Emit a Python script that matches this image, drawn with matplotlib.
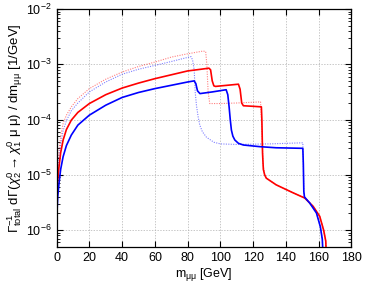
import matplotlib.pyplot as plt
import numpy as np

plt.rcParams['font.family'] = ['Liberation Sans', 'DejaVu Sans']
plt.rcParams['mathtext.fontset'] = 'custom'
plt.rcParams['mathtext.rm'] = 'Liberation Sans'
plt.rcParams['mathtext.it'] = 'Liberation Sans:italic'

# values: m_mumu [GeV] and log10 of the distribution
red_x = [0.05, 0.1, 0.3, 0.7, 1.5, 2.5, 4, 6, 9, 13, 20, 30, 40, 50, 60, 70, 80, 88, 93,
         94, 95, 96, 97, 104, 111, 112, 113, 114, 120, 125, 125.3, 125.7, 126.2, 127, 128,
         134, 144, 151.5, 156.6, 160.6, 163, 164.3, 164.8]
red_logy = [-6.6, -6.0, -5.4, -5.1, -4.85, -4.6, -4.37, -4.18, -4.01, -3.87, -3.71, -3.55,
            -3.43, -3.34, -3.26, -3.19, -3.12, -3.09, -3.07,
            -3.10, -3.30, -3.39, -3.40, -3.38, -3.36, -3.45, -3.70, -3.75, -3.76, -3.77,
            -4.0, -4.6, -4.9, -5.0, -5.06, -5.18, -5.32, -5.42, -5.57, -5.75, -6.0, -6.2, -6.6]

blue_x = [0.02, 0.05, 0.3, 0.7, 1.5, 2.5, 4, 6, 9, 13, 20, 30, 40, 50, 60, 70, 80, 84,
          85, 86, 87.5, 95, 103.5, 104.5, 105.3, 106, 106.7, 107.6, 108.8, 111, 114, 124, 134,
          150.3, 150.6, 150.9, 151.3, 154.5, 158.6, 161, 162.2, 162.8]
blue_logy = [-6.6, -6.1, -5.65, -5.4, -5.15, -4.9, -4.67, -4.47, -4.28, -4.10, -3.92, -3.74,
             -3.60, -3.51, -3.44, -3.38, -3.32, -3.30,
             -3.35, -3.48, -3.53, -3.50, -3.46, -3.55, -3.77, -4.0, -4.19, -4.30, -4.37, -4.43,
             -4.46, -4.49, -4.51, -4.52, -4.8, -5.3, -5.40, -5.51, -5.69, -5.94, -6.17, -6.6]

red_dot_x = [0.02, 0.05, 0.3, 0.7, 1.5, 2.5, 4, 6, 9, 13, 20, 30, 40, 50, 60, 70, 80, 89.5,
             91, 91.7, 92.5, 93.5, 100, 110, 124.5, 125.3, 126, 127, 128,
             134, 144, 151.5, 156.6, 160.6, 163, 164.3, 164.8]
red_dot_logy = [-6.6, -5.8, -5.0, -4.75, -4.55, -4.3, -4.07, -3.92, -3.77, -3.62, -3.44,
                -3.27, -3.14, -3.04, -2.96, -2.87, -2.81, -2.76,
                -2.77, -3.0, -3.5, -3.71, -3.71, -3.70, -3.68, -4.2, -4.8, -5.0, -5.06,
                -5.18, -5.32, -5.42, -5.57, -5.75, -6.0, -6.2, -6.6]

blue_dot_x = [0.02, 0.05, 0.3, 0.7, 1.5, 2.5, 4, 6, 9, 13, 20, 30, 40, 50, 60, 70, 78, 82,
              83, 84, 84.6, 85.4, 86.4, 87.4, 89, 91.5, 96, 100, 110, 130, 150.3, 150.6, 150.9,
              151.3, 154.5, 158.6, 161, 162.2, 162.8]
blue_dot_logy = [-6.6, -5.9, -5.3, -4.95, -4.7, -4.45, -4.2, -4.02, -3.84, -3.70, -3.50,
                 -3.32, -3.18, -3.09, -3.02, -2.95, -2.89, -2.86,
                 -2.92, -3.1, -3.5, -3.75, -3.95, -4.1, -4.22, -4.32, -4.41, -4.44, -4.45,
                 -4.44, -4.42, -4.8, -5.3, -5.40, -5.51, -5.69, -5.94, -6.17, -6.6]

fig = plt.figure(figsize=(3.65, 2.91), dpi=100)
ax = fig.add_axes([0.155, 0.152, 0.808, 0.817])

ax.semilogy(red_dot_x, 10.0 ** np.array(red_dot_logy), color='#ff0000', lw=0.8,
            ls=(0, (1, 1.2)), alpha=0.5)
ax.semilogy(blue_dot_x, 10.0 ** np.array(blue_dot_logy), color='#0000ff', lw=0.8,
            ls=(0, (1, 1.2)), alpha=0.5)
ax.semilogy(red_x, 10.0 ** np.array(red_logy), color='#ff0000', lw=1.2)
ax.semilogy(blue_x, 10.0 ** np.array(blue_logy), color='#0000ff', lw=1.2)

ax.set_xlim(0, 180)
ax.set_ylim(5e-7, 1e-2)
ax.set_xticks(np.arange(0, 181, 20))
ax.grid(True, which='major', color='#b0b0b0', ls=(0, (2, 2)), lw=0.5)
ax.tick_params(which='both', direction='in', top=True, right=True, labelsize=9)
ax.tick_params(which='major', length=4)
ax.tick_params(which='minor', length=2)
for s in ax.spines.values():
    s.set_linewidth(0.9)

ax.set_xlabel(r'm$_{\mathrm{μμ}}$ [GeV]', fontsize=9, labelpad=2)
ax.set_ylabel(r'$\Gamma^{-1}_{\rm total}$ dΓ($\chi^0_2 \rightarrow \chi^0_1$ μ μ) / dm$_{\mathrm{μμ}}$ [1/GeV]',
              fontsize=9.5, labelpad=1)

fig.savefig('out.png', dpi=100)
